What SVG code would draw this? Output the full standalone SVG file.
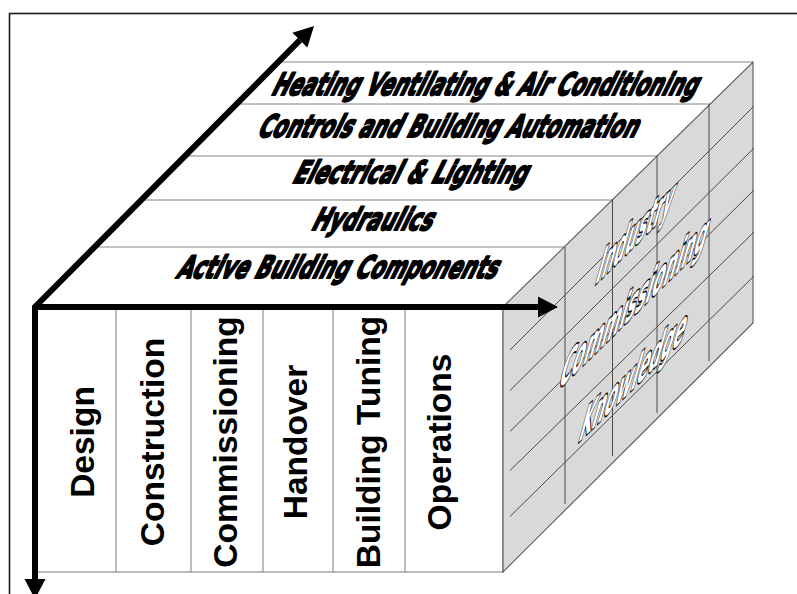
<svg xmlns="http://www.w3.org/2000/svg" width="797" height="594" viewBox="0 0 797 594">
  <style>
    .frame { fill: none; stroke: #1a1a1a; stroke-width: 1.6; }
    .face-line { stroke: #858585; stroke-width: 1.1; fill: none; }
    .side-face { fill: #d9d9d9; stroke: #5a5a5a; stroke-width: 1.1; }
    .side-grid { stroke: #4a4a4a; stroke-width: 1; fill: none; }
    .system { font-family: "DejaVu Sans", "Liberation Sans", sans-serif; font-weight: bold; font-size: 31px; fill: #000; stroke: #000; stroke-width: 2; stroke-linejoin: round; }
    .phase { font-family: "Liberation Sans", Arial, sans-serif; font-weight: bold; font-size: 33.5px; fill: #000; text-anchor: middle; }
    .knowledge { font-family: "DejaVu Sans", "Liberation Sans", sans-serif; font-weight: bold; font-size: 54px; fill: #fff; stroke: #000; stroke-width: 3.6; stroke-linejoin: round; paint-order: stroke; vector-effect: non-scaling-stroke; }
    .axis { fill: none; stroke: #000; stroke-width: 6; stroke-linejoin: miter; }
  </style>
  <defs>
    <marker id="head" markerUnits="userSpaceOnUse" viewBox="0 -11 22 22" markerWidth="22" markerHeight="22" refX="0" refY="0" orient="auto-start-reverse" overflow="visible">
      <path d="M0,-10.5 L20,0 L0,10.5 Z" fill="#000"/>
    </marker>
  </defs>

  <rect width="797" height="594" fill="#fff"/>
  <rect class="frame" x="9.5" y="13.5" width="800" height="600"/>

  <!-- top face: building systems layers -->
  <g id="top-face">
    <polygon points="35,307 503,307 753,62 278,62" fill="#fff"/>
    <line class="face-line" x1="278" y1="62" x2="753" y2="62"/>
    <line class="face-line" x1="236" y1="104" x2="710" y2="104"/>
    <line class="face-line" x1="185" y1="156" x2="657" y2="156"/>
    <line class="face-line" x1="141" y1="200" x2="612" y2="200"/>
    <line class="face-line" x1="94" y1="247" x2="565" y2="247"/>
  </g>
  <g id="layer-hvac">
    <g transform="translate(270,95) skewX(-26)"><text class="system" x="0" y="0" textLength="425" lengthAdjust="spacingAndGlyphs">Heating Ventilating &amp; Air Conditioning</text></g>
  </g>
  <g id="layer-controls">
    <g transform="translate(256,137) skewX(-26)"><text class="system" x="0" y="0" textLength="379" lengthAdjust="spacingAndGlyphs">Controls and Building Automation</text></g>
  </g>
  <g id="layer-electrical">
    <g transform="translate(291,183) skewX(-26)"><text class="system" x="0" y="0" textLength="234" lengthAdjust="spacingAndGlyphs">Electrical &amp; Lighting</text></g>
  </g>
  <g id="layer-hydraulics">
    <g transform="translate(310,230) skewX(-26)"><text class="system" x="0" y="0" textLength="120" lengthAdjust="spacingAndGlyphs">Hydraulics</text></g>
  </g>
  <g id="layer-active">
    <g transform="translate(175,278) skewX(-26)"><text class="system" x="0" y="0" textLength="320" lengthAdjust="spacingAndGlyphs">Active Building Components</text></g>
  </g>

  <!-- front face: lifecycle phases -->
  <g id="front-face">
    <rect x="35" y="307" width="468" height="265" fill="#fff" stroke="#858585" stroke-width="1.1"/>
    <line class="face-line" x1="116" y1="310" x2="116" y2="572"/>
    <line class="face-line" x1="191" y1="310" x2="191" y2="572"/>
    <line class="face-line" x1="263" y1="310" x2="263" y2="572"/>
    <line class="face-line" x1="333" y1="310" x2="333" y2="572"/>
    <line class="face-line" x1="405" y1="310" x2="405" y2="572"/>
  </g>
  <g id="phase-design"><text class="phase" transform="translate(93.5,442) rotate(-90)">Design</text></g>
  <g id="phase-construction"><text class="phase" transform="translate(164,442) rotate(-90)">Construction</text></g>
  <g id="phase-commissioning"><text class="phase" transform="translate(236.5,442) rotate(-90)">Commissioning</text></g>
  <g id="phase-handover"><text class="phase" transform="translate(306.5,442) rotate(-90)">Handover</text></g>
  <g id="phase-tuning"><text class="phase" transform="translate(380,442) rotate(-90)">Building Tuning</text></g>
  <g id="phase-operations"><text class="phase" transform="translate(450.5,442) rotate(-90)">Operations</text></g>

  <!-- side face: knowledge grid -->
  <g id="side-face">
    <polygon class="side-face" points="503,307 753,62 753,323 503,572"/>
    <line class="side-grid" x1="565" y1="247" x2="565" y2="504"/>
    <line class="side-grid" x1="612.5" y1="200" x2="612.5" y2="456"/>
    <line class="side-grid" x1="657" y1="156" x2="657" y2="413"/>
    <line class="side-grid" x1="709" y1="104" x2="709" y2="361"/>
    <line class="side-grid" x1="510" y1="350" x2="754" y2="106"/>
    <line class="side-grid" x1="510" y1="390.5" x2="754" y2="148"/>
    <line class="side-grid" x1="510" y1="431.5" x2="754" y2="190"/>
    <line class="side-grid" x1="510" y1="470.5" x2="754" y2="232"/>
    <line class="side-grid" x1="510" y1="516.5" x2="754" y2="276"/>
  </g>
  <!-- side labels: baseline runs along the depth axis, glyphs narrowed and leaned -->
  <g id="label-industry">
    <text class="knowledge" transform="matrix(0.713,-0.701,-0.27,0.963,594,286)" textLength="106" lengthAdjust="spacingAndGlyphs">Industry</text>
  </g>
  <g id="label-commissioning">
    <text class="knowledge" transform="matrix(0.713,-0.701,-0.27,0.963,557,391)" textLength="206" lengthAdjust="spacingAndGlyphs">Commissioning</text>
  </g>
  <g id="label-knowledge">
    <text class="knowledge" transform="matrix(0.713,-0.701,-0.27,0.963,577,444)" textLength="147" lengthAdjust="spacingAndGlyphs">Knowledge</text>
  </g>

  <!-- axes -->
  <g id="connectors">
    <path class="axis" d="M299.9,40.2 L35,307 L35,579" marker-start="url(#head)" marker-end="url(#head)"/>
    <path class="axis" d="M35,307 L538,307" marker-end="url(#head)"/>
  </g>
</svg>
